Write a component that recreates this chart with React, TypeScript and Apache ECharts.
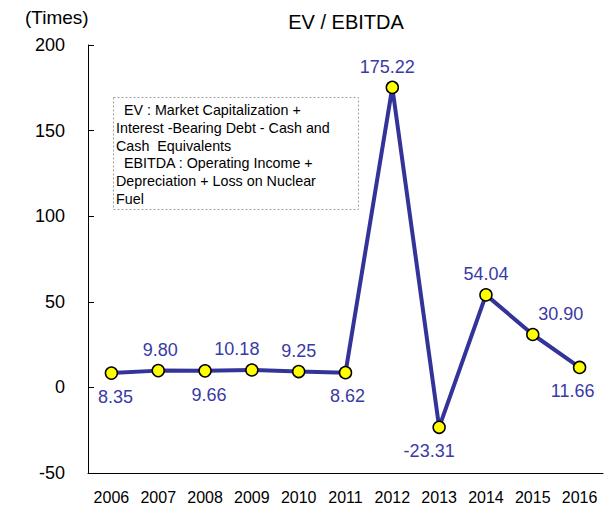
import React, { useEffect, useRef } from "react";
import * as echarts from "echarts";

const years = ["2006", "2007", "2008", "2009", "2010", "2011", "2012", "2013", "2014", "2015", "2016"];
const values = [8.35, 9.8, 9.66, 10.18, 9.25, 8.62, 175.22, -23.31, 54.04, 30.9, 11.66];
const noteLines = [
  "  EV : Market Capitalization +",
  "Interest -Bearing Debt - Cash and",
  "Cash  Equivalents",
  "  EBITDA : Operating Income +",
  "Depreciation + Loss on Nuclear",
  "Fuel",
];

// label placement (layout only)
const labelSide = ["bottom", "top", "bottom", "top", "top", "bottom", "top", "bottom", "top", "top", "bottom"];
const labelShiftX = [4, 2, 4, -15, 0, 2, -5, -10, 0, 28, -7];

const FONT = "'Liberation Sans', Arial, sans-serif";

export default function App() {
  const ref = useRef<HTMLDivElement>(null);
  useEffect(() => {
    const chart = echarts.init(ref.current!, null, { renderer: "svg" });
    chart.setOption({
      animation: false,
      textStyle: { fontFamily: FONT },
      title: {
        text: "EV / EBITDA",
        left: 341,
        textAlign: "center",
        top: 7,
        textStyle: { fontSize: 20, fontWeight: "normal", color: "#000", fontFamily: FONT },
      },
      graphic: [
        {
          type: "text",
          x: 25,
          y: 8,
          style: { text: "(Times)", fill: "#000", font: "19px " + FONT },
        },
        {
          type: "rect",
          shape: { x: 113.5, y: 97.5, width: 245, height: 112 },
          style: { fill: "#fff", stroke: "#a0a0a0", lineDash: [2, 2], lineWidth: 1 },
          z: 10,
        },
        {
          type: "text",
          x: 116,
          y: 101,
          z: 11,
          style: {
            text: noteLines.join("\n"),
            fill: "#000",
            font: "14.3px " + FONT,
            lineHeight: 17.8,
          },
        },
      ],
      grid: { left: 88, right: 3, top: 45, bottom: 33, containLabel: false },
      xAxis: {
        type: "category",
        data: years,
        boundaryGap: true,
        axisLine: { onZero: false, lineStyle: { color: "#000", width: 1 } },
        axisTick: { inside: true, length: 5, lineStyle: { color: "#000" } },
        axisLabel: { color: "#000", fontSize: 16, margin: 16, fontFamily: FONT },
      },
      yAxis: {
        type: "value",
        min: -50,
        max: 200,
        interval: 50,
        axisLine: { show: true, lineStyle: { color: "#000", width: 1 } },
        axisTick: { show: true, inside: true, length: 6, lineStyle: { color: "#000" } },
        axisLabel: { color: "#000", fontSize: 18, margin: 23, fontFamily: FONT },
        splitLine: { show: false },
      },
      series: [
        {
          type: "line",
          data: values.map((v, i) => ({
            value: v,
            label: {
              position: labelSide[i],
              distance: labelSide[i] === "bottom" ? 8 : 5,
              offset: [labelShiftX[i], 0],
            },
          })),
          lineStyle: { color: "#333399", width: 4 },
          itemStyle: { color: "#ffff00", borderColor: "#000", borderWidth: 1.5 },
          symbol: "circle",
          symbolSize: 12,
          label: {
            show: true,
            color: "#3a3aa6",
            fontSize: 18,
            fontFamily: FONT,
            formatter: (p: any) => p.value.toFixed(2),
          },
        },
      ],
    });
    return () => chart.dispose();
  }, []);
  return (
    <div
      ref={ref}
      style={{ position: "absolute", left: 0, top: 0, width: 606, height: 506 }}
    />
  );
}
